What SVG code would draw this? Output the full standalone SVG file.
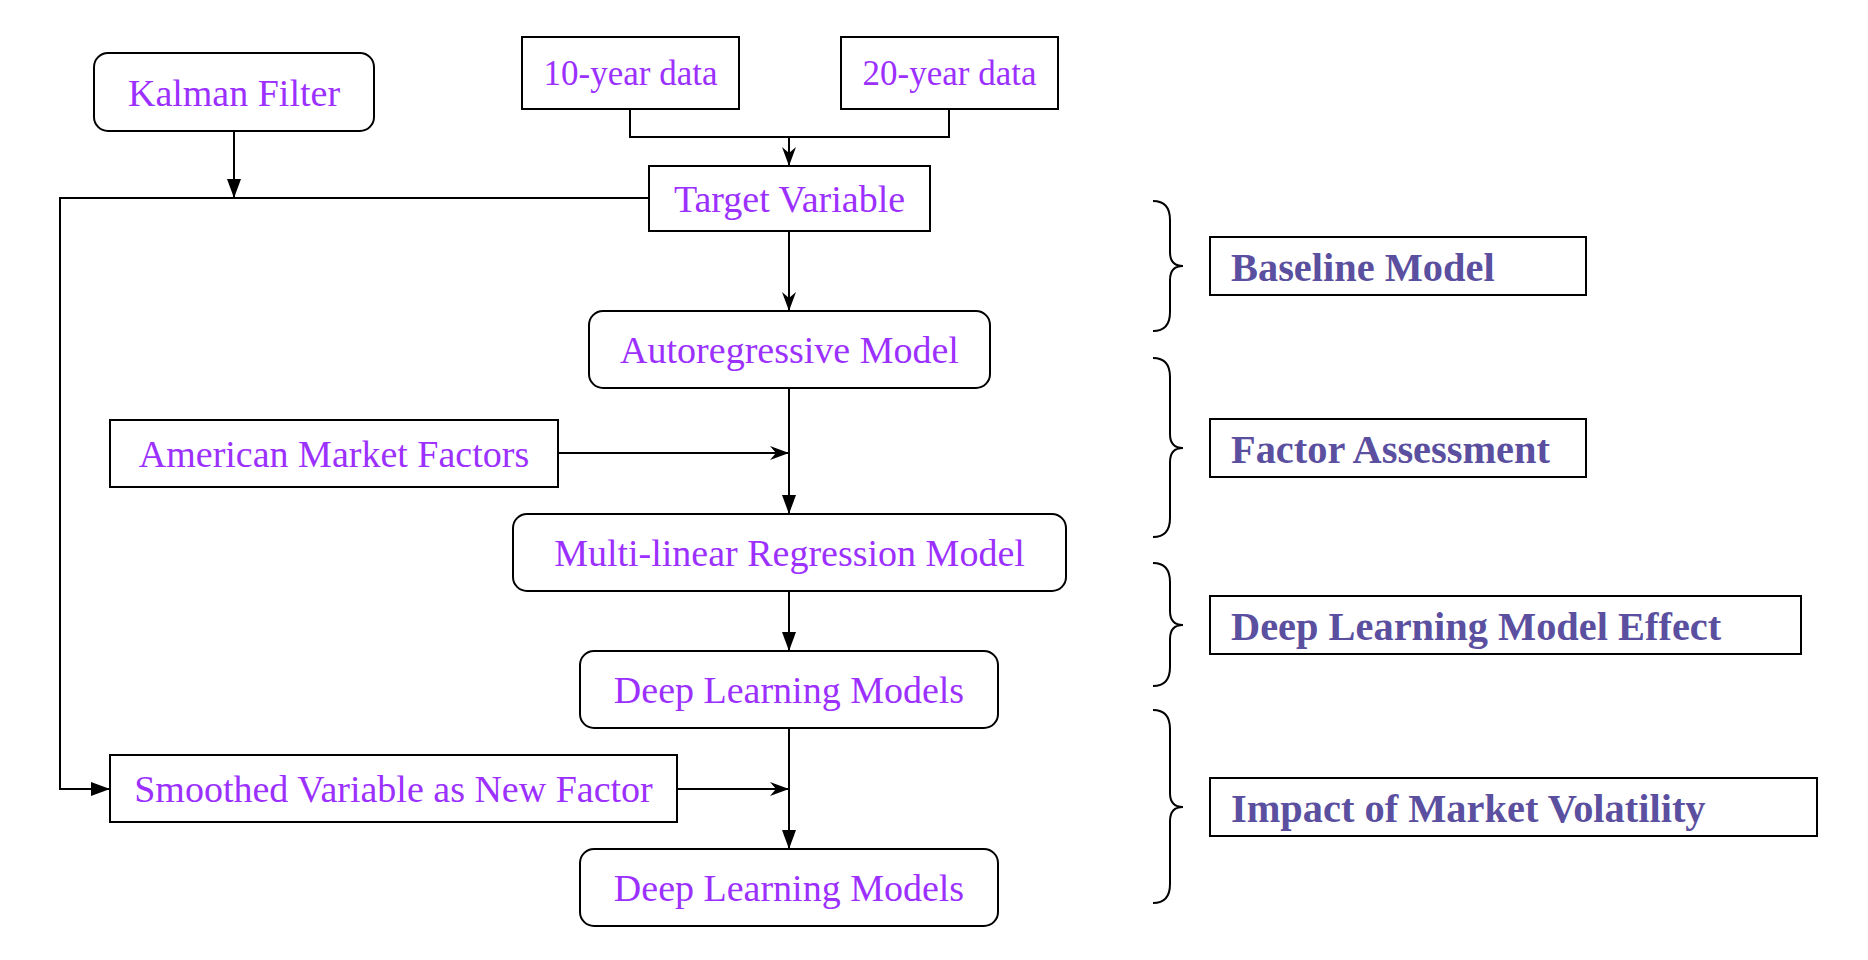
<svg xmlns="http://www.w3.org/2000/svg" width="1868" height="960" viewBox="0 0 1868 960">
<defs>
<style>
.box{fill:#fff;stroke:#000;stroke-width:2}
.t{font-family:"Liberation Serif","Times New Roman",serif;font-size:38px;fill:#9b30ff;text-anchor:middle}
.sm{font-size:35px}
.lbl{font-family:"Liberation Serif","Times New Roman",serif;font-size:40.4px;font-weight:bold;fill:#5b4fa0}
.c{fill:none;stroke:#000;stroke-width:2}
.br{fill:none;stroke:#000;stroke-width:2}
</style>
<marker id="tri" markerUnits="userSpaceOnUse" markerWidth="20" markerHeight="14" refX="19" refY="7" orient="auto">
<path d="M0,0 L19,7 L0,14 z" fill="#000"/>
</marker>
<marker id="st" markerUnits="userSpaceOnUse" markerWidth="20" markerHeight="14" refX="19" refY="7" orient="auto">
<path d="M0,0 L19,7 L0,14 L6,7 z" fill="#000"/>
</marker>
</defs>
<rect width="1868" height="960" fill="#fff"/>

<g id="connectors">
<path class="c" d="M234,131 V198" marker-end="url(#tri)"/>
<path class="c" d="M649,198 H60 V789 H110" marker-end="url(#tri)"/>
<path class="c" d="M630,109 V137 H949 V109"/>
<path class="c" d="M789,137 V166" marker-end="url(#st)"/>
<path class="c" d="M789,231 V311" marker-end="url(#st)"/>
<path class="c" d="M789,388 V514" marker-end="url(#tri)"/>
<path class="c" d="M558,453 H789" marker-end="url(#st)"/>
<path class="c" d="M789,591 V651" marker-end="url(#tri)"/>
<path class="c" d="M789,728 V849" marker-end="url(#tri)"/>
<path class="c" d="M677,789 H789" marker-end="url(#st)"/>
</g>

<g id="kalman"><rect class="box" x="94" y="53" width="280" height="78" rx="14"/><text class="t" x="234" y="106">Kalman Filter</text></g>
<g id="data10"><rect class="box" x="522" y="37" width="217" height="72"/><text class="t sm" x="630.5" y="85">10-year data</text></g>
<g id="data20"><rect class="box" x="841" y="37" width="217" height="72"/><text class="t sm" x="949.5" y="85">20-year data</text></g>
<g id="target"><rect class="box" x="649" y="166" width="281" height="65"/><text class="t" x="789.5" y="212">Target Variable</text></g>
<g id="ar"><rect class="box" x="589" y="311" width="401" height="77" rx="14"/><text class="t" x="789.5" y="363">Autoregressive Model</text></g>
<g id="amf"><rect class="box" x="110" y="420" width="448" height="67"/><text class="t" x="334" y="467">American Market Factors</text></g>
<g id="mlr"><rect class="box" x="513" y="514" width="553" height="77" rx="14"/><text class="t" x="789.5" y="566">Multi-linear Regression Model</text></g>
<g id="dl1"><rect class="box" x="580" y="651" width="418" height="77" rx="14"/><text class="t" x="789" y="703">Deep Learning Models</text></g>
<g id="svnf"><rect class="box" x="110" y="755" width="567" height="67"/><text class="t" x="393.5" y="802">Smoothed Variable as New Factor</text></g>
<g id="dl2"><rect class="box" x="580" y="849" width="418" height="77" rx="14"/><text class="t" x="789" y="901">Deep Learning Models</text></g>

<g id="brace1"><path class="br" d="M1153,201 Q1170,201 1170,220 V252 Q1170,266 1183,266 Q1170,266 1170,280 V312 Q1170,331 1153,331"/></g>
<g id="brace2"><path class="br" d="M1153,358 Q1170,358 1170,377 V434 Q1170,448 1183,448 Q1170,448 1170,462 V518 Q1170,537 1153,537"/></g>
<g id="brace3"><path class="br" d="M1153,563 Q1170,563 1170,582 V611 Q1170,625 1183,625 Q1170,625 1170,639 V667 Q1170,686 1153,686"/></g>
<g id="brace4"><path class="br" d="M1153,710 Q1170,710 1170,729 V793 Q1170,807 1183,807 Q1170,807 1170,821 V884 Q1170,903 1153,903"/></g>

<g id="lbl1"><rect class="box" x="1210" y="237" width="376" height="58"/><text class="lbl" x="1231" y="281">Baseline Model</text></g>
<g id="lbl2"><rect class="box" x="1210" y="419" width="376" height="58"/><text class="lbl" x="1231" y="463">Factor Assessment</text></g>
<g id="lbl3"><rect class="box" x="1210" y="596" width="591" height="58"/><text class="lbl" x="1231" y="640">Deep Learning Model Effect</text></g>
<g id="lbl4"><rect class="box" x="1210" y="778" width="607" height="58"/><text class="lbl" x="1231" y="822">Impact of Market Volatility</text></g>
</svg>
